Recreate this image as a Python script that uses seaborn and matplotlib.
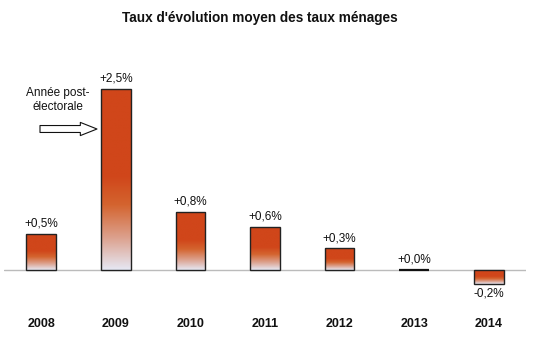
import numpy as np
import pandas as pd
import matplotlib
matplotlib.use("Agg")
import matplotlib.pyplot as plt
import seaborn as sns
from matplotlib.colors import LinearSegmentedColormap

years = ["2008", "2009", "2010", "2011", "2012", "2013", "2014"]
values = [0.5, 2.5, 0.8, 0.6, 0.3, 0.0, -0.2]
labels = ["+0,5%", "+2,5%", "+0,8%", "+0,6%", "+0,3%", "+0,0%", "-0,2%"]
title = "Taux d'évolution moyen des taux ménages"
note = "Année post-\nélectorale"

sns.set_theme(style="white")
plt.rcParams["font.family"] = ["Liberation Sans", "DejaVu Sans"]

W, H = 542, 350
fig = plt.figure(figsize=(W / 100, H / 100), dpi=100)
ax = fig.add_axes([4 / W, 50 / H, 522 / W, 240 / H])

df = pd.DataFrame({"year": years, "value": values})
sns.barplot(data=df, x="year", y="value", color="#D1471A", width=0.4,
            edgecolor="#222222", linewidth=1.0, ax=ax, zorder=3)

cmap = LinearSegmentedColormap.from_list(
    "grad", [(0.0, "#D0461A"), (0.48, "#D0461A"), (0.64, "#D4642F"),
             (0.82, "#DCA08C"), (1.0, "#E6E8F4")])
grad = np.linspace(0, 1, 256).reshape(-1, 1)

for p, v in zip(ax.patches, values):
    x, y = p.get_x(), p.get_y()
    w, h = p.get_width(), p.get_height()
    y0, y1 = min(y, y + h), max(y, y + h)
    p.set_facecolor("none")
    if v == 0:
        p.set_linewidth(1.6)
        p.set_edgecolor("#111111")
        continue
    im = ax.imshow(grad, cmap=cmap, aspect="auto", extent=[x, x + w, y0, y1],
                   origin="upper", zorder=2, interpolation="bilinear")
    im.set_clip_path(p)

ax.axhline(0, color="#BBBBBB", lw=1.0, zorder=1)

for i, (v, lab) in enumerate(zip(values, labels)):
    if v >= 0:
        ax.annotate(lab, (i, v), xytext=(0, 3), textcoords="offset points",
                    ha="center", va="bottom", fontsize=8.5, color="#111111")
    else:
        ax.annotate(lab, (i, v), xytext=(0, -2), textcoords="offset points",
                    ha="center", va="top", fontsize=8.5, color="#111111")

ax.set_xlim(-0.5, 6.5)
ax.set_ylim(-30 / 72.4, 210 / 72.4)
ax.set_xlabel("")
ax.set_ylabel("")
ax.set_yticks([])
ax.tick_params(axis="x", length=0, pad=13)
for t in ax.get_xticklabels():
    t.set_fontweight("bold")
    t.set_fontsize(9)
    t.set_color("#111111")
sns.despine(ax=ax, left=True, bottom=True)

fig.text(260 / W, 1 - 18 / H, title, ha="center", va="center",
         fontsize=9.8, fontweight="bold", color="#111111")
fig.text(58 / W, 1 - 100 / H, note, ha="center", va="center",
         fontsize=8.5, color="#111111", linespacing=1.15)
ax.annotate("", xy=(97, H - 129), xytext=(40, H - 129),
            xycoords="figure pixels", textcoords="figure pixels",
            arrowprops=dict(arrowstyle="simple,head_length=1.2,head_width=0.95,tail_width=0.5",
                            fc="white", ec="#111111", lw=0.8,
                            shrinkA=0, shrinkB=0, mutation_scale=10))

fig.savefig("out.png", dpi=100)
